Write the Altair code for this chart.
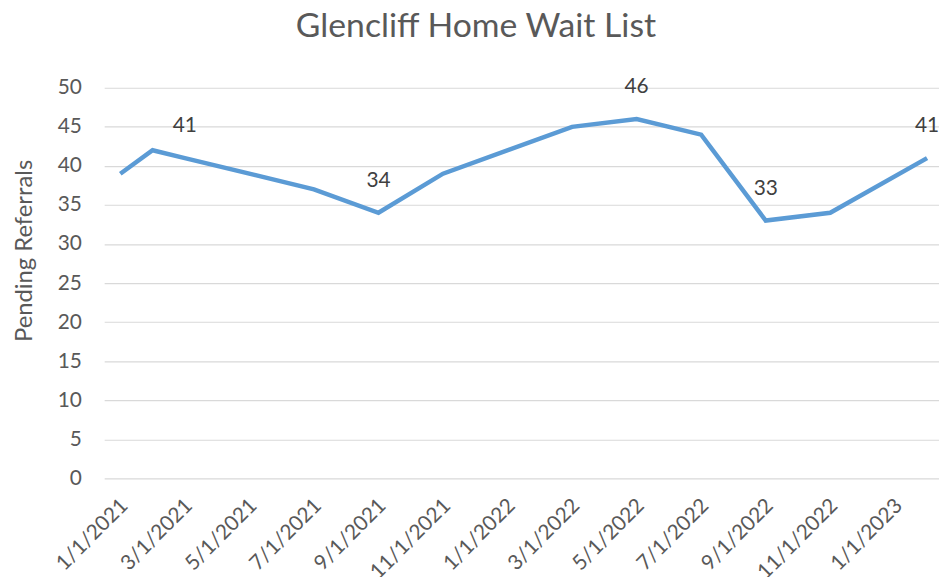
import altair as alt
import pandas as pd

dates = ["1/1/2021", "2/1/2021", "3/1/2021", "7/1/2021", "9/1/2021", "11/1/2021",
         "3/1/2022", "5/1/2022", "7/1/2022", "9/1/2022", "11/1/2022", "2/1/2023"]
values = [39, 42, 41, 37, 34, 39, 45, 46, 44, 33, 34, 41]
labeled = [False, False, True, False, True, False, False, True, False, True, False, True]
tick_months = list(range(0, 25, 2))  # 1/1/2021 ... 1/1/2023 every two months
y_ticks = list(range(0, 51, 5))

parsed = pd.to_datetime(pd.Series(dates), format="%m/%d/%Y")
df = pd.DataFrame({
    "date": dates,
    "m": (parsed.dt.year - 2021) * 12 + parsed.dt.month - 1,
    "value": values,
    "show": labeled,
})

FONT = "Lato"
GREY = "#595959"

x_enc = alt.X(
    "m:Q",
    scale=alt.Scale(domain=[-0.5, 25.37], nice=False, zero=False),
    axis=alt.Axis(
        values=tick_months,
        labelExpr="(datum.value % 12 + 1) + '/1/' + (2021 + floor(datum.value / 12))",
        labelAngle=315, labelAlign="right", labelBaseline="middle",
        labelFont=FONT, labelFontSize=21, labelColor=GREY, labelPadding=24,
        labelOffset=4,
        domain=False, ticks=False, grid=False, title=None, labelOverlap=False,
    ),
)
y_enc = alt.Y(
    "value:Q",
    scale=alt.Scale(domain=[0, 50], nice=False),
    axis=alt.Axis(
        values=y_ticks, grid=True, gridColor="#d9d9d9", gridWidth=1.2,
        domain=False, ticks=False, labelOverlap=False,
        labelFont=FONT, labelFontSize=21, labelColor=GREY, labelPadding=23,
        title="Pending Referrals", titleFont=FONT, titleFontSize=24,
        titleFontWeight="normal", titleColor=GREY,
        titleAngle=270, titleX=-80, titleY=164, titleAlign="center", titleBaseline="middle",
    ),
)

base = alt.Chart(df).encode(x=x_enc, y=y_enc)

line = base.mark_line(color="#5b9bd5", strokeWidth=4.5, strokeJoin="miter")
labels = base.transform_filter("datum.show").mark_text(
    font=FONT, fontSize=21, color="#404040", dy=-32, baseline="middle"
).encode(text="value:Q")

chart = alt.layer(line, labels).properties(
    width=842, height=394,
    autosize=alt.AutoSizeParams(type="none"),
    padding={"left": 97, "top": 78, "right": 0, "bottom": 97},
    title=alt.TitleParams(
        "Glencliff Home Wait List", font=FONT, fontSize=34, fontWeight="normal",
        color=GREY, anchor="middle", dx=-46, offset=6, baseline="alphabetic",
    ),
).configure_view(stroke=None)

chart.save("out.html", embed_options={"renderer": "svg", "actions": False})
